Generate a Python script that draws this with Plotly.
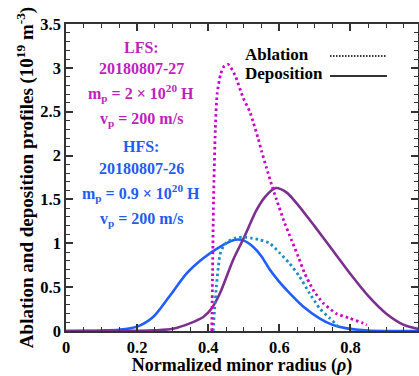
import plotly.graph_objects as go

# ---------------- data ----------------
hfs_dep_x = [0, 0.05, 0.1, 0.15, 0.2, 0.245, 0.29, 0.34, 0.386, 0.433, 0.475, 0.5, 0.526, 0.55, 0.573, 0.6, 0.62, 0.667, 0.713, 0.75, 0.79, 0.85, 0.9, 1.0]
hfs_dep_y = [0, 0.002, 0.006, 0.015, 0.05, 0.16, 0.39, 0.66, 0.83, 0.96, 1.04, 1.03, 0.96, 0.85, 0.70, 0.56, 0.47, 0.28, 0.145, 0.07, 0.03, 0.005, 0, 0]

lfs_dep_x = [0, 0.1, 0.2, 0.25, 0.3, 0.35, 0.386, 0.41, 0.433, 0.47, 0.5, 0.536, 0.56, 0.59, 0.62, 0.65, 0.7, 0.75, 0.8, 0.85, 0.9, 0.95, 1.0]
lfs_dep_y = [0, 0, 0.003, 0.008, 0.025, 0.09, 0.16, 0.26, 0.43, 0.81, 1.06, 1.38, 1.53, 1.63, 1.58, 1.45, 1.19, 0.92, 0.65, 0.40, 0.20, 0.07, 0.015]

lfs_abl_x = [0.41, 0.412, 0.415, 0.42, 0.425, 0.435, 0.445, 0.456, 0.475, 0.498, 0.517, 0.526, 0.54, 0.55, 0.564, 0.578, 0.592, 0.615, 0.634, 0.653, 0.671, 0.695, 0.723, 0.76, 0.798, 0.835, 0.846]
lfs_abl_y = [0, 0.6, 1.5, 2.3, 2.7, 2.93, 3.02, 3.04, 2.92, 2.66, 2.5, 2.39, 2.2, 2.05, 1.86, 1.67, 1.5, 1.23, 1.04, 0.85, 0.66, 0.47, 0.32, 0.2, 0.145, 0.09, 0.07]

hfs_abl_x = [0.414, 0.418, 0.423, 0.428, 0.433, 0.443, 0.455, 0.475, 0.5, 0.52, 0.545, 0.573, 0.601, 0.629, 0.657, 0.685, 0.713, 0.742, 0.756, 0.765]
hfs_abl_y = [0, 0.25, 0.51, 0.72, 0.87, 0.97, 1.02, 1.06, 1.07, 1.06, 1.04, 1.0, 0.89, 0.77, 0.62, 0.43, 0.26, 0.145, 0.09, 0.05]

x_ticks = [0, 0.2, 0.4, 0.6, 0.8]
y_ticks = [0, 0.5, 1, 1.5, 2, 2.5, 3, 3.5]

FONT = "Times New Roman, Liberation Serif, DejaVu Serif, serif"
MAG_TXT = "#c01ec0"
BLUE_TXT = "#1f5cf0"

fig = go.Figure()
fig.add_trace(go.Scatter(x=hfs_dep_x, y=hfs_dep_y, mode="lines",
                         line=dict(color="#1f5eff", width=2.6, shape="spline", smoothing=0.8), showlegend=False))
fig.add_trace(go.Scatter(x=lfs_dep_x, y=lfs_dep_y, mode="lines",
                         line=dict(color="#7b2f8f", width=2.6, shape="spline", smoothing=0.8), showlegend=False))
fig.add_trace(go.Scatter(x=hfs_abl_x, y=hfs_abl_y, mode="lines",
                         line=dict(color="#1b8ac6", width=2.8, dash="2.5px,3px", shape="spline", smoothing=0.6), showlegend=False))
fig.add_trace(go.Scatter(x=lfs_abl_x, y=lfs_abl_y, mode="lines",
                         line=dict(color="#cc00cc", width=2.8, dash="2.5px,3px", shape="spline", smoothing=0.6), showlegend=False))

tickf = dict(family=FONT, size=16.5, color="black", weight="bold")
xtitlef = dict(family=FONT, size=18, color="black", weight="bold")
ytitlef = dict(family=FONT, size=19, color="black", weight="bold")

fig.update_xaxes(range=[0, 0.99], tickvals=x_ticks, ticktext=[str(v) for v in x_ticks],
                 ticks="inside", ticklen=7, tickwidth=1.5, tickcolor="#333",
                 minor=dict(dtick=0.05, ticks="inside", ticklen=4, tickwidth=1.2, tickcolor="#333"),
                 showline=True, linecolor="#333", linewidth=1.5, mirror="allticks",
                 showgrid=False, zeroline=False, tickfont=tickf, automargin=False,
                 title=dict(text="Normalized minor radius (<i>ρ</i>)", font=xtitlef, standoff=9))
fig.update_yaxes(range=[0, 3.5], tickvals=y_ticks, ticktext=["0", "0.5", "1", "1.5", "2", "2.5", "3", "3.5"],
                 ticks="inside", ticklen=7, tickwidth=1.5, tickcolor="#333",
                 minor=dict(dtick=0.1, ticks="inside", ticklen=4, tickwidth=1.2, tickcolor="#333"),
                 showline=True, linecolor="#333", linewidth=1.5, mirror="allticks",
                 showgrid=False, zeroline=False, tickfont=tickf, automargin=False,
                 title=dict(text="Ablation and deposition profiles (10<sup>19</sup> m<sup>-3</sup>)", font=ytitlef, standoff=2))

anns = [
    ("LFS:", 47, MAG_TXT),
    ("20180807-27", 69, MAG_TXT),
    ("m<sub>p</sub> = 2 × 10<sup>20</sup> H", 93, MAG_TXT),
    ("v<sub>p</sub> = 200 m/s", 119, MAG_TXT),
    ("HFS:", 146, BLUE_TXT),
    ("20180807-26", 168, BLUE_TXT),
    ("m<sub>p</sub> = 0.9 × 10<sup>20</sup> H", 193, BLUE_TXT),
    ("v<sub>p</sub> = 200 m/s", 219, BLUE_TXT),
]
for txt, ypx, col in anns:
    fig.add_annotation(text=txt, xref="paper", yref="paper",
                       x=(141 - 66) / 352, y=(331 - ypx) / 307,
                       xanchor="center", yanchor="middle", showarrow=False,
                       font=dict(family=FONT, size=16, color=col, weight="bold"))

# legend (text left, sample right)
for txt, ypx, dash in [("Ablation", 54, "dot"), ("Deposition", 74, "solid")]:
    fig.add_annotation(text=txt, xref="paper", yref="paper",
                       x=(243 - 66) / 352, y=(331 - ypx) / 307, xanchor="left", yanchor="middle",
                       showarrow=False, font=dict(family=FONT, size=17, color="black", weight="bold"))
    fig.add_shape(type="line", xref="paper", yref="paper",
                  x0=(330 - 66) / 352, x1=(387 - 66) / 352,
                  y0=(331 - ypx - 2) / 307, y1=(331 - ypx - 2) / 307,
                  line=dict(color="#333", width=2.2 if dash == "solid" else 1.8,
                            dash="solid" if dash == "solid" else "1.5px,1.5px"))

fig.update_layout(width=419, height=376, margin=dict(l=66, r=1, t=24, b=45),
                  plot_bgcolor="white", paper_bgcolor="white", showlegend=False)

fig.write_html("out.html", config={"displayModeBar": False},
               post_script="document.body.style.margin='0';document.body.style.padding='0';document.documentElement.style.overflow='hidden';")
